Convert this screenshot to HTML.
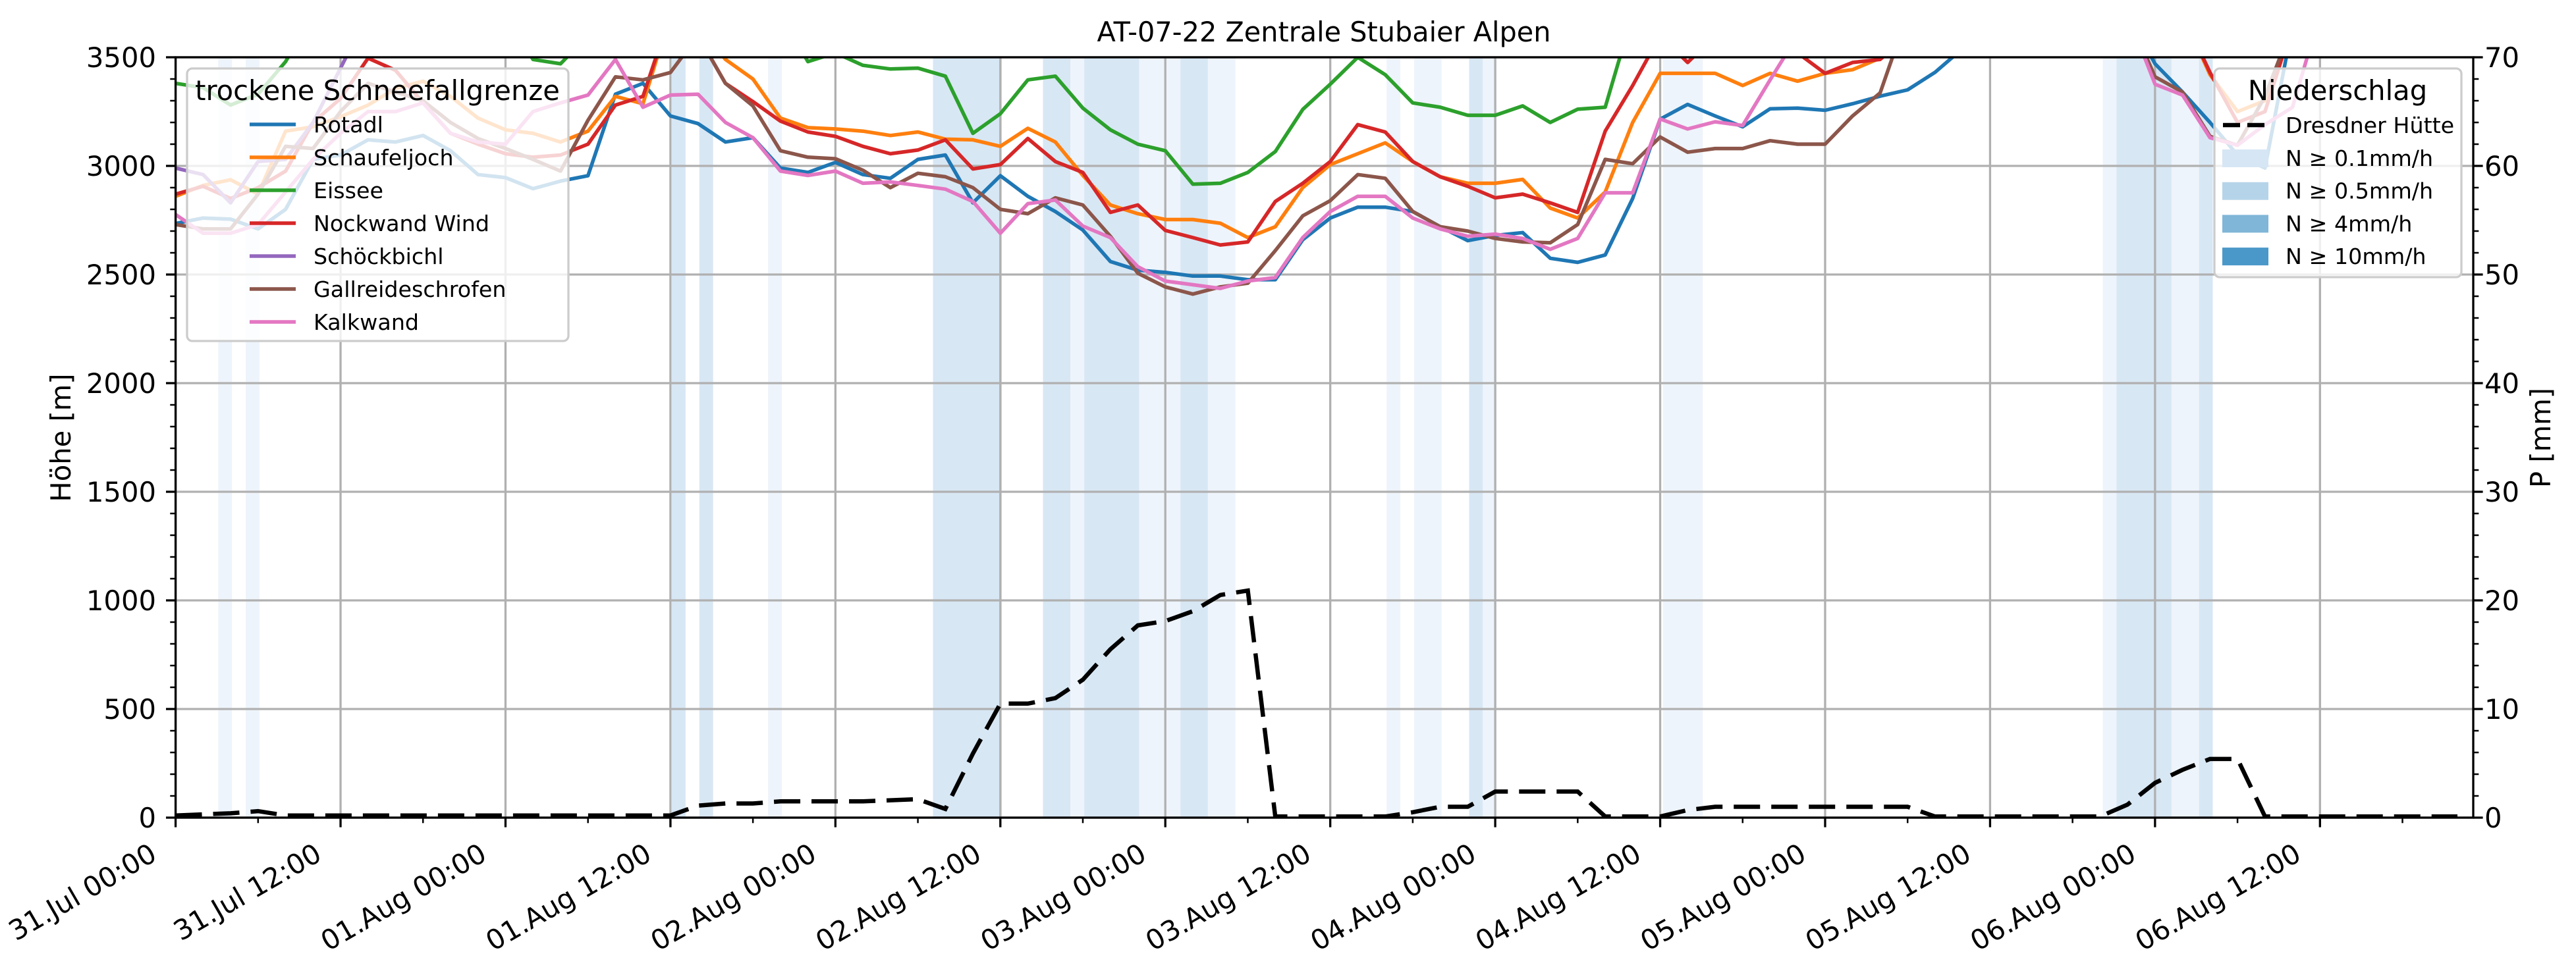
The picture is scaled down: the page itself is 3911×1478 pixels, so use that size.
<!DOCTYPE html>
<html><head><meta charset="utf-8"><style>
html,body{margin:0;padding:0;background:#fff;}
svg{display:block;font-family:"DejaVu Sans","Liberation Sans",sans-serif;}
</style></head><body>
<svg id="chart" width="3911" height="1478" viewBox="0 0 3911 1478" xmlns="http://www.w3.org/2000/svg">
<defs><clipPath id="plotclip"><rect x="266.6" y="87" width="3488.4" height="1155"/></clipPath></defs>
<rect x="0" y="0" width="3911" height="1478" fill="#fff"/>
<text x="2010" y="63" text-anchor="middle" font-size="41.7" textLength="689" lengthAdjust="spacingAndGlyphs">AT-07-22 Zentrale Stubaier Alpen</text>
<g id="bands" clip-path="url(#plotclip)"></g>
<g id="grid"></g>
<g id="lines" clip-path="url(#plotclip)"></g>
<g id="axes"></g>
<g id="legends"></g>
</svg>
<script>
const hours = [0,2,4,6,8,10,12,14,16,18,20,22,24,26,28,30,32,34,36,38,40,42,44,46,48,50,52,54,56,58,60,62,64,66,68,70,72,74,76,78,80,82,84,86,88,90,92,94,96,98,100,102,104,106,108,110,112,114,116,118,120,122,124,126,128,130,132,134,136,138,140,142,144,146,148,150,152,154,156,158,160,162,164,166];
const rotadl = [2735,2760,2755,2710,2800,3030,3050,3120,3110,3140,3070,2960,2946,2895,2930,2955,3330,3380,3230,3195,3110,3130,2990,2970,3016,2960,2943,3030,3050,2830,2955,2860,2790,2705,2560,2520,2510,2493,2493,2476,2476,2660,2760,2810,2810,2790,2720,2656,2680,2693,2575,2556,2590,2850,3215,3283,3230,3180,3263,3266,3256,3286,3321,3350,3431,3540,3700,3700,3700,3700,3700,3700,3470,3340,3200,3050,2990,3650,3700,3700,3700,3700,3700,3700];
const schaufeljoch = [2860,2910,2936,2870,3160,3180,3226,3280,3356,3390,3320,3220,3166,3150,3110,3160,3320,3286,3700,3650,3490,3400,3220,3176,3170,3160,3140,3156,3123,3120,3090,3173,3110,2956,2820,2780,2753,2753,2736,2670,2720,2900,3006,3056,3106,3020,2950,2920,2920,2938,2806,2760,2880,3200,3426,3426,3426,3370,3426,3390,3426,3443,3496,3600,3700,3700,3700,3700,3700,3700,3700,3700,3700,3700,3420,3250,3300,3650,3700,3700,3700,3700,3700,3700];
const eissee = [3380,3360,3280,3330,3480,3700,3700,3700,3700,3700,3700,3700,3700,3490,3470,3600,3700,3700,3700,3700,3700,3700,3700,3480,3520,3463,3446,3450,3413,3150,3240,3396,3413,3266,3166,3100,3070,2916,2920,2970,3066,3260,3376,3500,3420,3290,3270,3233,3233,3276,3200,3261,3270,3700,3700,3700,3700,3700,3700,3700,3700,3700,3700,3700,3700,3700,3700,3700,3700,3700,3700,3700,3700,3700,3700,3700,3700,3700,3700,3700,3700,3700,3700,3700];
const nockwand = [2870,2906,2850,2900,2976,3200,3310,3496,3440,3290,3150,3100,3056,3040,3050,3100,3280,3320,3700,3600,3380,3296,3206,3156,3136,3090,3056,3073,3120,2986,3006,3126,3020,2970,2786,2820,2703,2670,2636,2650,2836,2920,3020,3190,3156,3020,2950,2906,2853,2870,2830,2786,3160,3370,3600,3476,3600,3700,3700,3520,3426,3476,3490,3600,3700,3700,3700,3700,3700,3700,3700,3700,3700,3700,3430,3200,3250,3650,3700,3700,3700,3700,3700,3700];
const schoeckbichl = [2990,2960,2830,3020,3030,3200,3450,3700,3700,3700,3700,3700,3700,3700,3700,3700,3700,3700,3700,3700,3700,3700,3700,3700,3700,3700,3700,3700,3700,3700,3700,3700,3700,3700,3700,3700,3700,3700,3700,3700,3700,3700,3700,3700,3700,3700,3700,3700,3700,3700,3700,3700,3700,3700,3700,3700,3700,3700,3700,3700,3700,3700,3700,3700,3700,3700,3700,3700,3700,3700,3700,3700,3700,3700,3700,3700,3700,3700,3700,3700,3700,3700,3700,3700];
const gallreide = [2730,2710,2710,2870,3090,3080,3250,3380,3340,3300,3200,3126,3080,3030,2976,3210,3410,3396,3430,3600,3380,3276,3070,3040,3033,2980,2900,2966,2950,2900,2800,2780,2853,2820,2676,2506,2443,2410,2443,2460,2610,2770,2840,2960,2943,2790,2720,2700,2666,2650,2646,2730,3030,3010,3133,3063,3080,3080,3116,3100,3100,3230,3336,3700,3700,3700,3700,3700,3700,3700,3700,3700,3410,3340,3136,3095,3320,3650,3700,3700,3700,3700,3700,3700];
const kalkwand = [2776,2690,2690,2730,2880,3030,3150,3250,3250,3290,3150,3110,3100,3250,3290,3326,3490,3270,3326,3330,3200,3130,2976,2956,2976,2920,2926,2910,2893,2836,2690,2826,2843,2723,2670,2536,2470,2453,2436,2470,2486,2670,2790,2860,2860,2760,2710,2676,2686,2666,2616,2666,2876,2876,3216,3170,3203,3186,3396,3600,3700,3700,3700,3700,3700,3700,3700,3700,3700,3700,3700,3700,3376,3326,3130,3095,3190,3270,3700,3700,3700,3700,3700,3700];
const precipDresdner = [0.2,0.3,0.4,0.6,0.2,0.2,0.2,0.2,0.2,0.2,0.2,0.2,0.2,0.2,0.2,0.2,0.2,0.2,0.2,1.1,1.3,1.3,1.5,1.5,1.5,1.5,1.6,1.7,0.8,5.9,10.5,10.5,11.0,12.7,15.5,17.7,18.1,19.0,20.5,20.9,0.1,0.1,0.1,0.1,0.1,0.5,1.0,1.0,2.4,2.4,2.4,2.4,0.1,0.1,0.1,0.7,1.0,1.0,1.0,1.0,1.0,1.0,1.0,1.0,0.1,0.1,0.1,0.1,0.1,0.1,0.1,1.2,3.2,4.4,5.4,5.4,0.1,0.1,0.1,0.1,0.1,0.1,0.1,0.1];
const bandStart = [3.1,5.1,36.1,38.1,43.1,55.1,63.1,65.1,66.1,70.1,73.1,75.1,88.1,90.1,94.1,95.1,108.2,140.2,141.2,145.2,147.2];
const bandEnd   = [4.1,6.1,37.1,39.1,44.1,60.1,65.1,66.1,70.1,73.1,75.1,77.1,89.1,92.1,95.1,96.1,111.1,141.2,145.2,147.2,148.2];
const bandLevel = [1,1,2,2,1,2,2,1,2,1,2,1,1,1,2,1,1,1,2,1,2];
const hTicks = [0,500,1000,1500,2000,2500,3000,3500];
const pTicks = [0,10,20,30,40,50,60,70];
const xTickLabels = ["31.Jul 00:00","31.Jul 12:00","01.Aug 00:00","01.Aug 12:00","02.Aug 00:00","02.Aug 12:00","03.Aug 00:00","03.Aug 12:00","04.Aug 00:00","04.Aug 12:00","05.Aug 00:00","05.Aug 12:00","06.Aug 00:00","06.Aug 12:00"];

const NS="http://www.w3.org/2000/svg";
const L=266.6,R=3755,T=87,B=1242,TMAX=167.15,HMAX=3500,PMAX=70;
function xs(t){return L+(R-L)*t/TMAX;}
function yh(h){return B-(B-T)*h/HMAX;}
function yp(p){return B-(B-T)*p/PMAX;}
function mk(tag,attrs,parent){const e=document.createElementNS(NS,tag);for(const k in attrs)e.setAttribute(k,attrs[k]);parent.appendChild(e);return e;}
const g={bands:document.getElementById('bands'),grid:document.getElementById('grid'),lines:document.getElementById('lines'),axes:document.getElementById('axes'),legends:document.getElementById('legends')};

// bands
const bandColors={1:'#eef4fb',2:'#d8e7f4'};
for(let i=0;i<bandStart.length;i++){
  const r=mk('rect',{x:xs(bandStart[i]),y:T,width:xs(bandEnd[i])-xs(bandStart[i]),height:B-T,fill:bandColors[bandLevel[i]]},g.bands);
  
  
}
// grid
for(let i=0;i<xTickLabels.length;i++){
  const x=xs(i*12);
  const l=mk('line',{x1:x,x2:x,y1:T,y2:B,stroke:'#b0b0b0','stroke-width':3.3},g.grid);
  
  
}
hTicks.forEach(h=>{
  const l=mk('line',{x1:L,x2:R,y1:yh(h),y2:yh(h),stroke:'#b0b0b0','stroke-width':3.3},g.grid);
  
  
});
// series
const seriesList=[
 ['Rotadl',rotadl,'#1f77b4'],['Schaufeljoch',schaufeljoch,'#ff7f0e'],['Eissee',eissee,'#2ca02c'],
 ['Nockwand Wind',nockwand,'#d62728'],['Schöckbichl',schoeckbichl,'#9467bd'],['Gallreideschrofen',gallreide,'#8c564b'],['Kalkwand',kalkwand,'#e377c2']];
seriesList.forEach(s=>{
  const pts=hours.map((t,i)=>xs(t).toFixed(1)+','+yh(s[1][i]).toFixed(1)).join(' ');
  const p=mk('polyline',{points:pts,fill:'none',stroke:s[2],'stroke-width':5.5,'stroke-linejoin':'round'},g.lines);
  
  
});
const pp=mk('polyline',{points:hours.map((t,i)=>xs(t).toFixed(1)+','+yp(precipDresdner[i]).toFixed(1)).join(' '),fill:'none',stroke:'#000','stroke-width':6.5,'stroke-dasharray':'40 17'},g.lines);



// axes frame
const fr=mk('rect',{x:L,y:T,width:R-L,height:B-T,fill:'none',stroke:'#000','stroke-width':3.3},g.axes);


// x ticks
for(let t=0;t<=TMAX;t+=6){
  const major=(t%12===0);
  mk('line',{x1:xs(t),x2:xs(t),y1:B,y2:B+(major?14.6:8.3),stroke:'#000','stroke-width':major?3.3:2.5},g.axes);
}
xTickLabels.forEach((lab,i)=>{
  const x=xs(i*12)-26,y=1305;
  const tx=mk('text',{x:x,y:y,'text-anchor':'end','font-size':41.7,transform:`rotate(-30 ${x} ${y})`},g.axes);
  tx.textContent=lab;
  
  
});
// left ticks
for(let h=0;h<=HMAX;h+=100){
  const major=(h%500===0);
  mk('line',{x1:L,x2:L-(major?14.6:8.3),y1:yh(h),y2:yh(h),stroke:'#000','stroke-width':major?3.3:2.5},g.axes);
}
hTicks.forEach(h=>{
  const tx=mk('text',{x:237,y:yh(h)+15,'text-anchor':'end','font-size':41.7},g.axes);
  tx.textContent=String(h);
  
  
});
// right ticks
for(let p=0;p<=PMAX;p+=2){
  const major=(p%10===0);
  mk('line',{x1:R,x2:R+(major?14.6:8.3),y1:yp(p),y2:yp(p),stroke:'#000','stroke-width':major?3.3:2.5},g.axes);
}
pTicks.forEach(p=>{
  const tx=mk('text',{x:3772,y:yp(p)+15,'text-anchor':'start','font-size':41.7},g.axes);
  tx.textContent=String(p);
  
  
});
const yl=mk('text',{x:0,y:0,'text-anchor':'middle','font-size':41.7,transform:'translate(107 665) rotate(-90)'},g.axes);
yl.textContent='Höhe [m]';


const yl2=mk('text',{x:0,y:0,'text-anchor':'middle','font-size':41.7,transform:'translate(3872 665) rotate(-90)'},g.axes);
yl2.textContent='P [mm]';



// legend 1
const lg1=mk('g',{},g.legends);


mk('rect',{x:284,y:104,width:579,height:414,rx:8,fill:'#fff','fill-opacity':0.8,stroke:'#cccccc','stroke-width':3.3},lg1);
const t1=mk('text',{x:573,y:152,'text-anchor':'middle','font-size':41.7},lg1);t1.textContent='trockene Schneefallgrenze';
seriesList.forEach((s,i)=>{
  const y=189+i*50;
  const e=mk('g',{},lg1);
  
  
  mk('line',{x1:379,x2:449,y1:y,y2:y,stroke:s[2],'stroke-width':5.5},e);
  const tx=mk('text',{x:476,y:y+12,'font-size':33.3},e);tx.textContent=s[0];
});
// legend 2
const lg2=mk('g',{},g.legends);


mk('rect',{x:3362,y:104,width:375,height:317,rx:8,fill:'#fff','fill-opacity':0.8,stroke:'#cccccc','stroke-width':3.3},lg2);
const t2=mk('text',{x:3549,y:152,'text-anchor':'middle','font-size':41.7},lg2);t2.textContent='Niederschlag';
const e0=mk('g',{},lg2);


mk('line',{x1:3375,x2:3443,y1:190,y2:190,stroke:'#000','stroke-width':6.5,'stroke-dasharray':'26 11'},e0);
const te0=mk('text',{x:3470,y:202,'font-size':33.3},e0);te0.textContent='Dresdner Hütte';
const patchCols=['#d6e6f4','#b6d4e9','#80b6d8','#4a98c9'];
const patchLabs=['N ≥ 0.1mm/h','N ≥ 0.5mm/h','N ≥ 4mm/h','N ≥ 10mm/h'];
patchLabs.forEach((lab,i)=>{
  const y=240+i*49.7;
  const e=mk('g',{},lg2);
  
  
  mk('rect',{x:3374,y:y-13,width:70,height:27,fill:patchCols[i]},e);
  const tx=mk('text',{x:3470,y:y+12,'font-size':33.3},e);tx.textContent=lab;
});
</script>
</body></html>
